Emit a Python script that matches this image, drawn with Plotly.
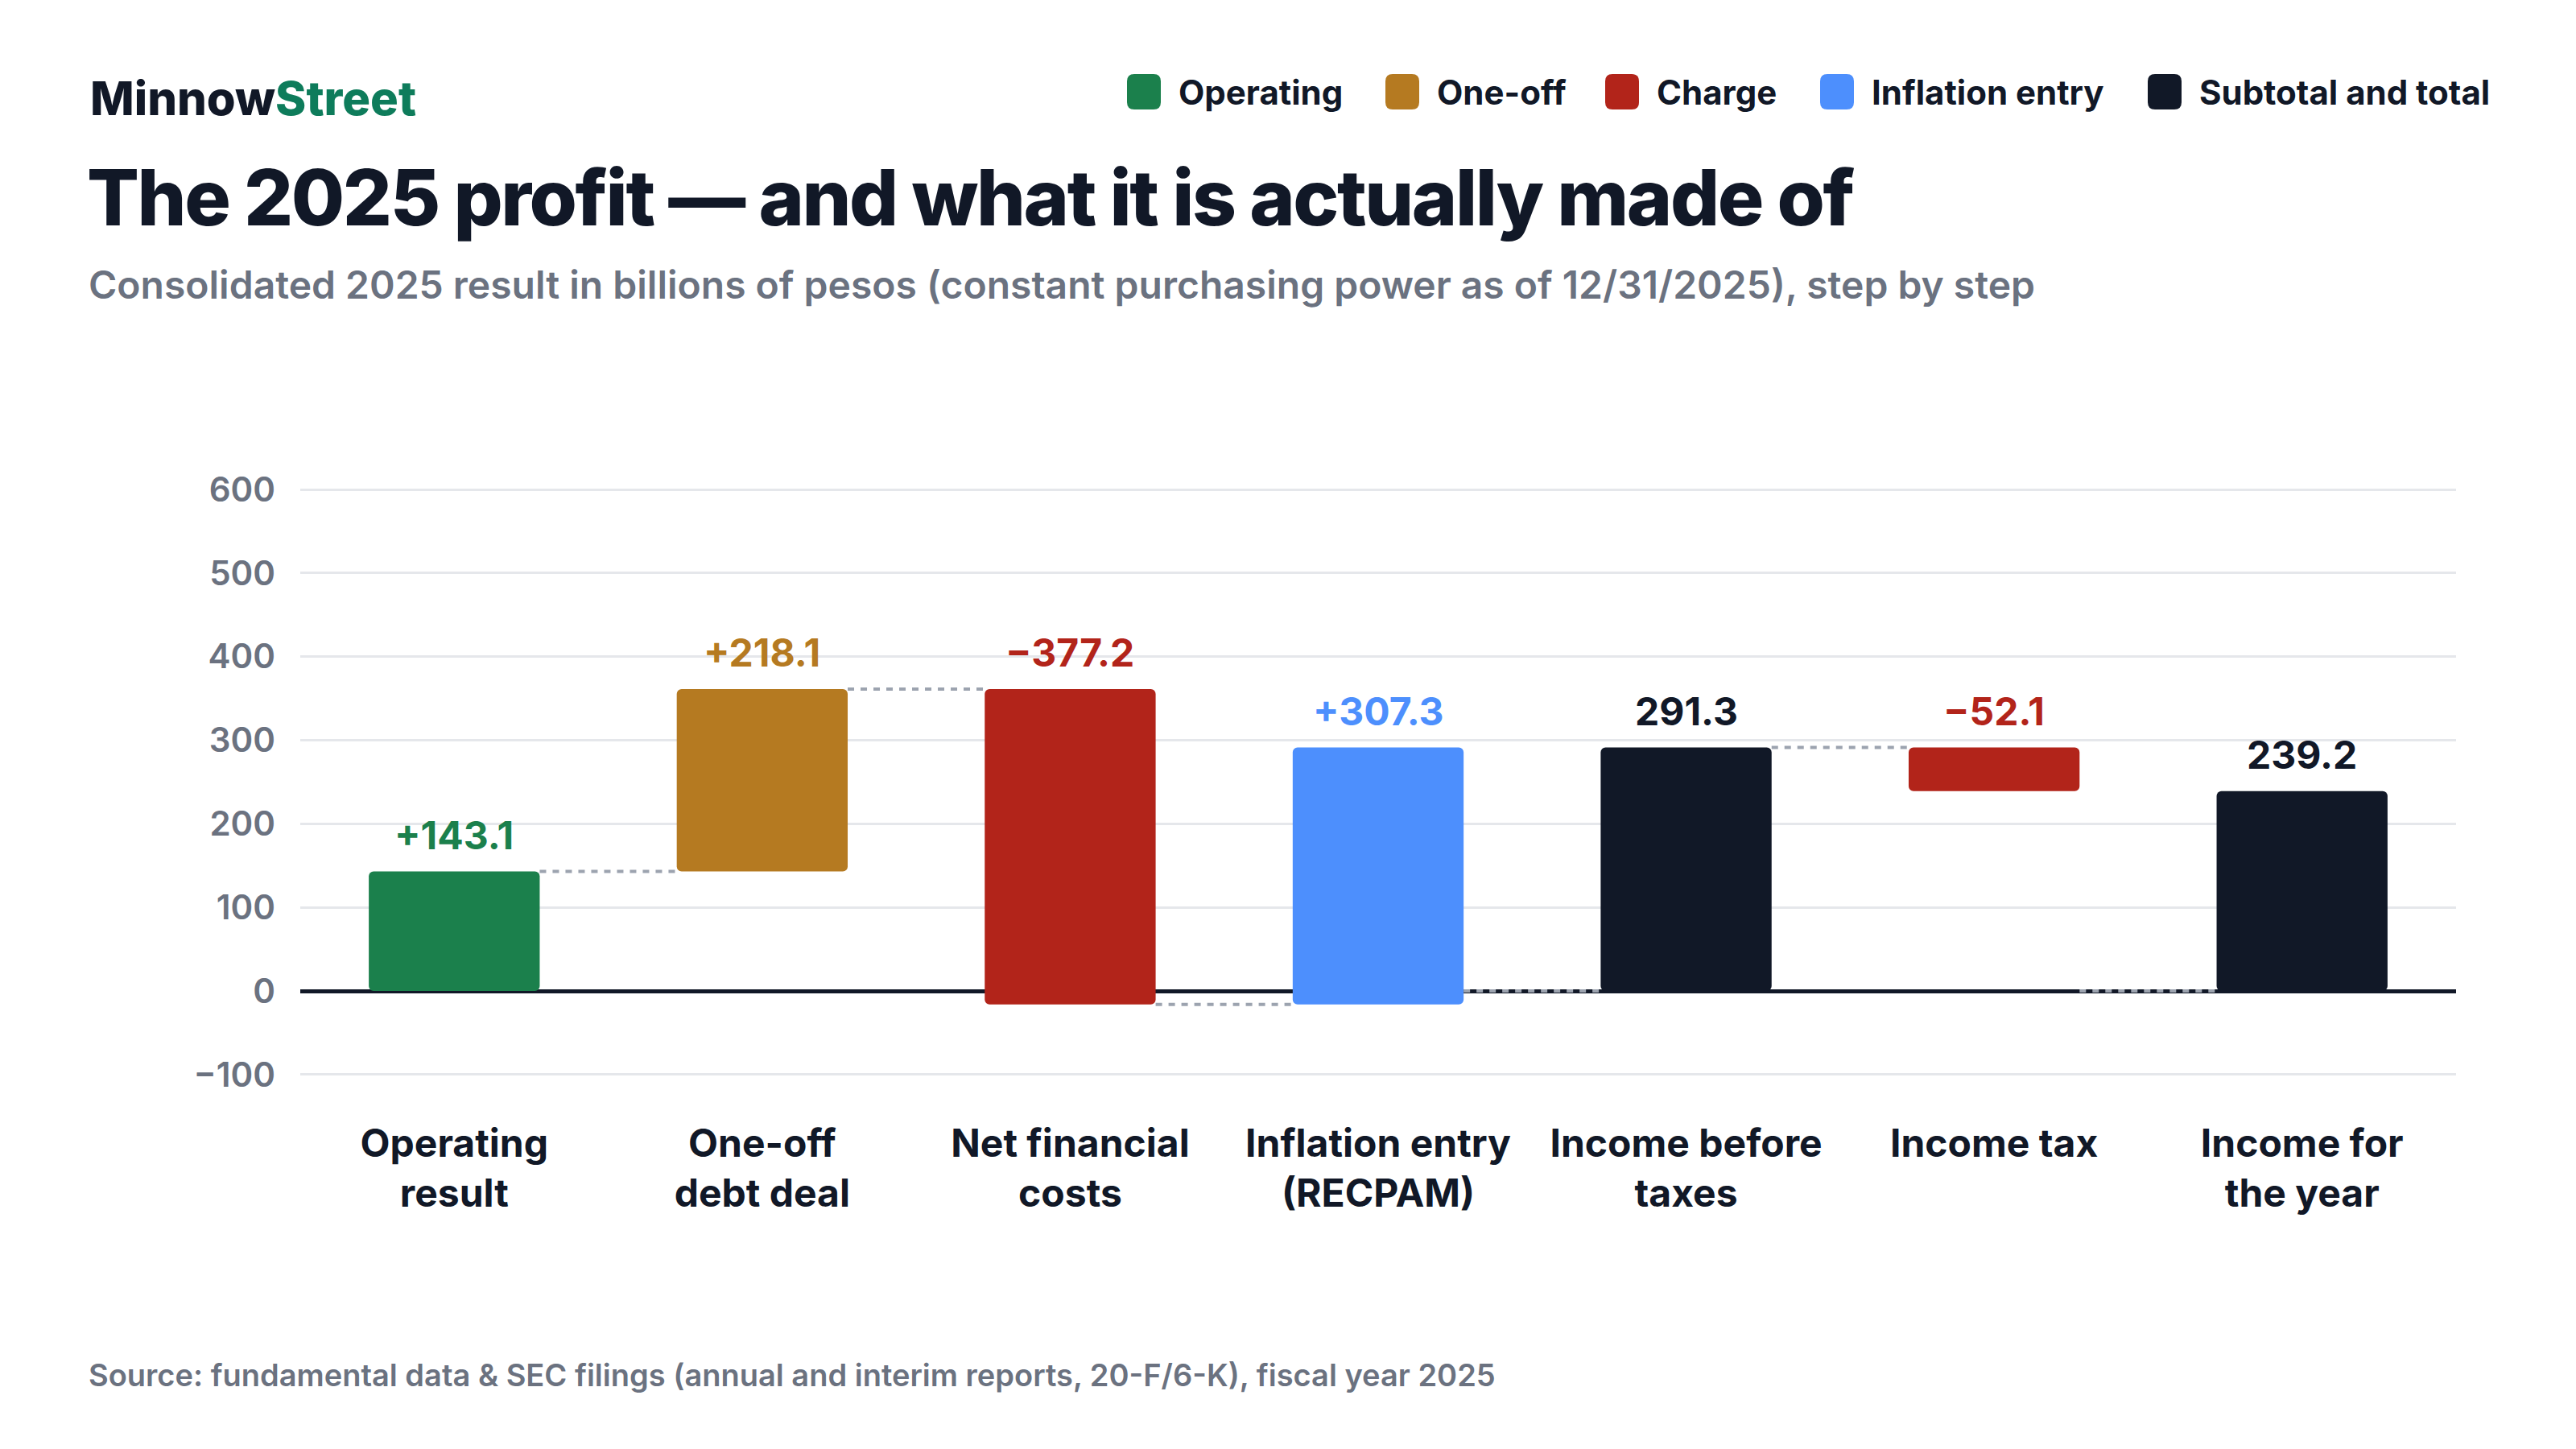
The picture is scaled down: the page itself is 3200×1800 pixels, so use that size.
import plotly.graph_objects as go

# data
categories = ["Operating<br>result", "One-off<br>debt deal", "Net financial<br>costs",
              "Inflation entry<br>(RECPAM)", "Income before<br>taxes", "Income tax",
              "Income for<br>the year"]
values = [143.1, 218.1, -377.2, 307.3, 291.3, -52.1, 239.2]
measures = ["relative", "relative", "relative", "relative", "total", "relative", "total"]
kinds = ["Operating", "One-off", "Charge", "Inflation entry", "Subtotal and total",
         "Charge", "Subtotal and total"]

legend_labels = ["Operating", "One-off", "Charge", "Inflation entry", "Subtotal and total"]
y_ticks = [-100, 0, 100, 200, 300, 400, 500, 600]

colors = {
    "Operating": "#1b804c",
    "One-off": "#b57a21",
    "Charge": "#b2241a",
    "Inflation entry": "#4d8ffd",
    "Subtotal and total": "#111827",
}
DARK = "#111827"
GRAY = "#6b7280"
FONT = "Inter"

W, H = 3200, 1800
OFF = 8  # page body margin
L, R, T, B = 373 - OFF, 149 + OFF, 607 - OFF, 464 + OFF
y_range = [-101, 601]
bar_w = 0.555


def px_x(px):
    return (px - OFF - L) / (W - L - R)


def px_y(py):
    return (H - B - (py - OFF)) / (H - T - B)


# running totals for the waterfall
bases, tops, starts = [], [], []
run = 0.0
for v, m in zip(values, measures):
    if m == "total":
        lo, hi = 0.0, v
        starts.append(0.0)
        run = v
    else:
        starts.append(run)
        lo, hi = run, run + v
        run += v
    bases.append(min(lo, hi))
    tops.append(max(lo, hi))

idx = list(range(len(categories)))
fig = go.Figure()

fig.add_trace(go.Bar(
    x=idx, y=[t - b for t, b in zip(tops, bases)], base=bases,
    width=bar_w, marker=dict(color=[colors[k] for k in kinds], cornerradius=6,
                             line=dict(width=0)),
    hoverinfo="skip", showlegend=False,
))

# connectors: end of one bar to where the next one starts
cx, cy = [], []
for i in range(len(values) - 1):
    cx += [i + bar_w / 2, i + 1 - bar_w / 2, None]
    cy += [starts[i + 1], starts[i + 1], None]
fig.add_trace(go.Scatter(x=cx, y=cy, mode="lines", hoverinfo="skip", showlegend=False,
                         line=dict(color="#9ca3af", width=4, dash="8px,8px")))

annotations = []
for i, (v, m, k) in enumerate(zip(values, measures, kinds)):
    if m == "total":
        txt = f"{v:.1f}"
    else:
        txt = f"+{v:.1f}" if v > 0 else f"\u2212{abs(v):.1f}"
    annotations.append(dict(
        x=i, y=tops[i], xref="x", yref="y", text=txt, showarrow=False,
        yanchor="bottom", yshift=14,
        font=dict(family=FONT, size=48, color=colors[k], weight=700),
    ))

# header / footer text
annotations += [
    dict(x=px_x(110), y=px_y(122), xref="paper", yref="paper", xanchor="left",
         yanchor="middle", showarrow=False,
         text="Minnow<span style='color:#0e7c5b'>Street</span>",
         font=dict(family=FONT, size=58, color=DARK, weight=800)),
    dict(x=px_x(106), y=px_y(245), xref="paper", yref="paper", xanchor="left",
         yanchor="middle", showarrow=False,
         text="<span style='letter-spacing:-2.4px'>The 2025 profit \u2014 and what it is "
              "actually made of</span>",
         font=dict(family=FONT, size=96, color=DARK, weight=800)),
    dict(x=px_x(108), y=px_y(353), xref="paper", yref="paper", xanchor="left",
         yanchor="middle", showarrow=False,
         text="Consolidated 2025 result in billions of pesos (constant purchasing power "
              "as of 12/31/2025), step by step",
         font=dict(family=FONT, size=48, color=GRAY, weight=600)),
    dict(x=px_x(108), y=px_y(1708), xref="paper", yref="paper", xanchor="left",
         yanchor="middle", showarrow=False,
         text="Source: fundamental data &amp; SEC filings (annual and interim reports, "
              "20-F/6-K), fiscal year 2025",
         font=dict(family=FONT, size=38, color=GRAY, weight=600)),
]

# custom legend with rounded swatches
legend_x = [1400, 1721, 1994, 2261, 2668]
legend_y = 114
shapes = []
sw, sh, rr = 42, 44, 9
for lab, lx in zip(legend_labels, legend_x):
    path = (f"M{rr},{sh/2} L{sw-rr},{sh/2} Q{sw},{sh/2} {sw},{sh/2-rr} "
            f"L{sw},{-sh/2+rr} Q{sw},{-sh/2} {sw-rr},{-sh/2} L{rr},{-sh/2} "
            f"Q0,{-sh/2} 0,{-sh/2+rr} L0,{sh/2-rr} Q0,{sh/2} {rr},{sh/2} Z")
    shapes.append(dict(type="path", xref="paper", yref="paper",
                       xsizemode="pixel", ysizemode="pixel",
                       xanchor=px_x(lx), yanchor=px_y(legend_y), path=path,
                       fillcolor=colors[lab], line=dict(width=0)))
    annotations.append(dict(x=px_x(lx + 62), y=px_y(legend_y), xref="paper", yref="paper",
                            xanchor="left", yanchor="middle", showarrow=False, text=lab,
                            font=dict(family=FONT, size=42, color=DARK, weight=700)))

fig.update_layout(
    width=W, height=H, paper_bgcolor="white", plot_bgcolor="white",
    margin=dict(l=L, r=R, t=T, b=B),
    showlegend=False, barmode="overlay",
    annotations=annotations, shapes=shapes,
    font=dict(family=FONT, color=DARK),
)
fig.update_xaxes(
    tickvals=idx, ticktext=categories, range=[-0.5, len(categories) - 0.5],
    showgrid=False, zeroline=False, showline=False, ticks="",
    ticklabelstandoff=52,
    tickfont=dict(family=FONT, size=48, color=DARK, weight=700),
)
fig.update_yaxes(
    range=y_range, tickvals=y_ticks, showgrid=True, gridcolor="#e5e7eb",
    gridwidth=3, zeroline=True, zerolinecolor=DARK, zerolinewidth=5,
    showline=False, ticks="", ticklabelstandoff=30,
    tickfont=dict(family=FONT, size=42, color=GRAY, weight=600),
)

fig.write_html("out.html")
